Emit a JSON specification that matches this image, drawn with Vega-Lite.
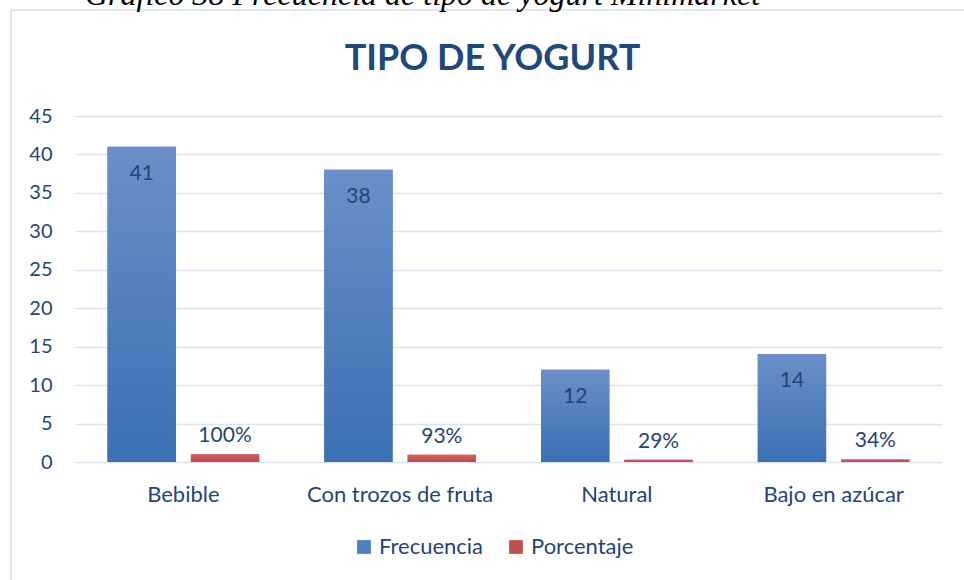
{
  "$schema": "https://vega.github.io/schema/vega-lite/v6.json",
  "width": 953,
  "height": 570,
  "autosize": {"type": "none"},
  "padding": {"left": 11, "top": 10, "right": 0, "bottom": 0},
  "background": "white",
  "title": {
    "text": "Gráfico  38 Frecuencia de tipo de yogurt Minimarket",
    "anchor": "start",
    "frame": "group",
    "dx": 74,
    "offset": -27,
    "baseline": "alphabetic",
    "font": "Liberation Serif",
    "fontStyle": "italic",
    "fontWeight": "normal",
    "fontSize": 32,
    "color": "#000000"
  },
  "config": {
    "font": "Lato",
    "view": {"stroke": "#D6E1F1", "strokeWidth": 1.5, "strokeDash": [953, 1523, 570, 0]}
  },
  "data": {
    "values": [
      {"tipo": "Bebible", "serie": "Frecuencia", "valor": 41, "etiqueta": "41"},
      {"tipo": "Bebible", "serie": "Porcentaje", "valor": 1, "etiqueta": "100%"},
      {"tipo": "Con trozos de fruta", "serie": "Frecuencia", "valor": 38, "etiqueta": "38"},
      {"tipo": "Con trozos de fruta", "serie": "Porcentaje", "valor": 0.93, "etiqueta": "93%"},
      {"tipo": "Natural", "serie": "Frecuencia", "valor": 12, "etiqueta": "12"},
      {"tipo": "Natural", "serie": "Porcentaje", "valor": 0.29, "etiqueta": "29%"},
      {"tipo": "Bajo en azúcar", "serie": "Frecuencia", "valor": 14, "etiqueta": "14"},
      {"tipo": "Bajo en azúcar", "serie": "Porcentaje", "valor": 0.34, "etiqueta": "34%"}
    ]
  },
  "encoding": {
    "x": {
      "field": "tipo",
      "type": "nominal",
      "sort": ["Bebible", "Con trozos de fruta", "Natural", "Bajo en azúcar"],
      "scale": {"range": [64, 931], "paddingInner": 0.3, "paddingOuter": 0.15},
      "axis": {
        "title": null,
        "orient": "bottom",
        "offset": -118,
        "labelPadding": 22,
        "labelAngle": 0,
        "labelLimit": 400,
        "labelFontSize": 22,
        "labelColor": "#264478",
        "labelFont": "Lato",
        "ticks": false,
        "domain": false,
        "grid": false
      }
    },
    "xOffset": {
      "field": "serie",
      "type": "nominal",
      "sort": ["Frecuencia", "Porcentaje"],
      "scale": {"paddingInner": 0.18, "paddingOuter": 0}
    },
    "y": {
      "field": "valor",
      "type": "quantitative",
      "scale": {"domain": [0, 45], "range": [452, 106], "nice": false, "zero": true},
      "axis": {
        "title": "TIPO DE YOGURT",
        "titleAngle": 0,
        "titleAlign": "center",
        "titleBaseline": "alphabetic",
        "titleX": 440,
        "titleY": 59,
        "titleFont": "Lato",
        "titleFontSize": 36,
        "titleFontWeight": "bold",
        "titleColor": "#1F497D",
        "values": [0, 5, 10, 15, 20, 25, 30, 35, 40, 45],
        "offset": -41,
        "labelPadding": 0,
        "labelFontSize": 20,
        "labelColor": "#264478",
        "labelFont": "Lato",
        "ticks": false,
        "domain": false,
        "grid": true,
        "gridColor": "#D9E3F3",
        "gridWidth": 1.5
      }
    }
  },
  "layer": [
    {
      "mark": {"type": "bar"},
      "encoding": {
        "color": {
          "field": "serie",
          "type": "nominal",
          "sort": ["Frecuencia", "Porcentaje"],
          "scale": {"domain": ["Frecuencia", "Porcentaje"], "range": ["#4F7FC0", "#C0504D"]},
          "legend": {
            "title": null,
            "orient": "none",
            "legendX": 342,
            "legendY": 526,
            "direction": "horizontal",
            "symbolType": "square",
            "symbolSize": 190,
            "symbolStrokeWidth": 0,
            "symbolOpacity": 1,
            "labelFontSize": 22,
            "labelFont": "Lato",
            "labelColor": "#264478",
            "labelOffset": 4,
            "columnPadding": 21
          }
        }
      }
    },
    {
      "transform": [{"filter": "datum.serie === 'Frecuencia'"}],
      "mark": {
        "type": "bar",
        "fill": {
          "gradient": "linear", "x1": 0, "y1": 0, "x2": 0, "y2": 1,
          "stops": [{"offset": 0, "color": "#6A8FCA"}, {"offset": 1, "color": "#3C6FB4"}]
        }
      }
    },
    {
      "transform": [{"filter": "datum.serie === 'Porcentaje'"}],
      "mark": {
        "type": "bar",
        "fill": {
          "gradient": "linear", "x1": 0, "y1": 0, "x2": 0, "y2": 1,
          "stops": [{"offset": 0, "color": "#D0625F"}, {"offset": 1, "color": "#BC4A47"}]
        }
      }
    },
    {
      "transform": [{"filter": "datum.serie === 'Frecuencia'"}],
      "mark": {"type": "text", "baseline": "middle", "align": "center", "dy": 27, "fontSize": 21, "font": "Lato", "color": "#264478"},
      "encoding": {"text": {"field": "etiqueta", "type": "nominal"}}
    },
    {
      "transform": [{"filter": "datum.serie === 'Porcentaje'"}],
      "mark": {"type": "text", "baseline": "middle", "align": "center", "dy": -18, "fontSize": 21, "font": "Lato", "color": "#264478"},
      "encoding": {"text": {"field": "etiqueta", "type": "nominal"}}
    }
  ]
}
